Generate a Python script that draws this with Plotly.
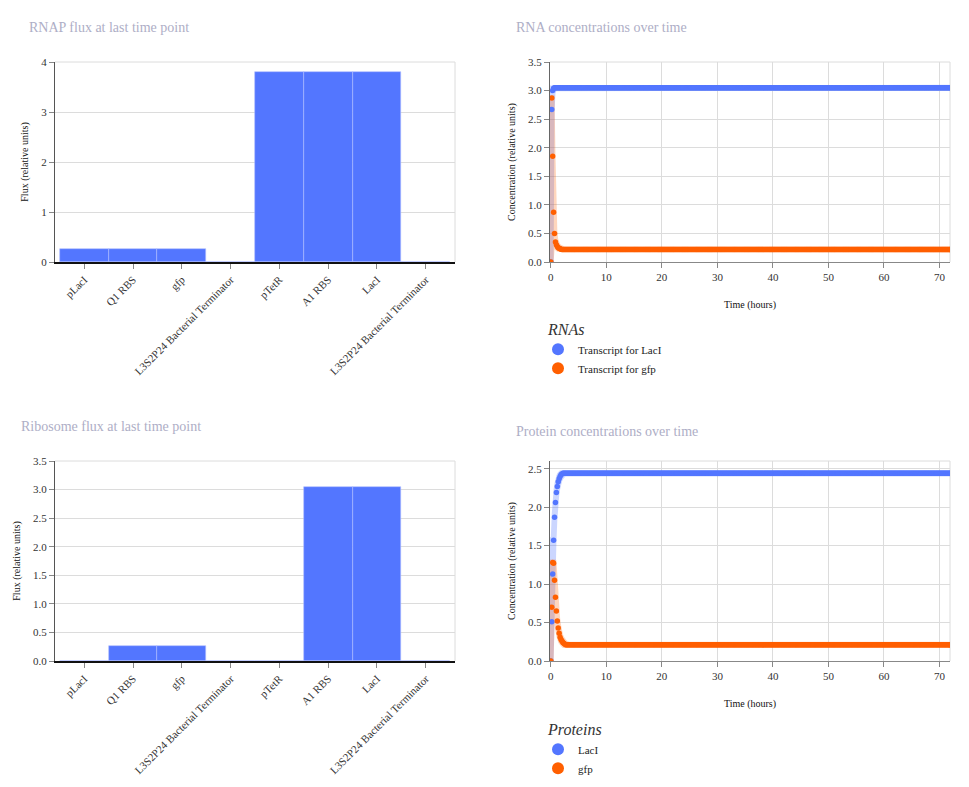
import numpy as np
import plotly.graph_objects as go
from plotly.subplots import make_subplots

# ---------------- data ----------------
parts = ["pLacI", "Q1 RBS", "gfp", "L3S2P24 Bacterial Terminator",
         "pTetR", "A1 RBS", "LacI", "L3S2P24 Bacterial Terminator"]
rnap_flux = [0.27, 0.27, 0.27, 0.0, 3.81, 3.81, 3.81, 0.0]
ribosome_flux = [0.0, 0.26, 0.26, 0.0, 0.0, 3.05, 3.05, 0.0]

time_step = 1 / 6          # hours
n_points = 433             # 0 .. 72 h
times = list(np.round(np.arange(n_points) * time_step, 4))

rna_lacI_start = [0.0, 2.67, 3.00, 3.04]
rna_lacI_plateau = 3.05
rna_gfp_start = [0.0, 2.87, 1.85, 0.87, 0.50, 0.35, 0.30, 0.27, 0.25, 0.24, 0.23, 0.225]
rna_gfp_plateau = 0.22

prot_lacI_start = [0.0, 0.51, 1.13, 1.57, 1.87, 2.06, 2.19, 2.27, 2.33, 2.37, 2.40, 2.42, 2.43]
prot_lacI_plateau = 2.44
prot_gfp_start = [0.0, 0.70, 1.28, 1.27, 1.05, 0.83, 0.65, 0.52, 0.43, 0.36, 0.31, 0.28,
                  0.26, 0.24, 0.23, 0.22]
prot_gfp_plateau = 0.21

rna_names = ["Transcript for LacI", "Transcript for gfp"]
protein_names = ["LacI", "gfp"]


def full(start, plateau):
    return start + [plateau] * (n_points - len(start))


rna_lacI = full(rna_lacI_start, rna_lacI_plateau)
rna_gfp = full(rna_gfp_start, rna_gfp_plateau)
prot_lacI = full(prot_lacI_start, prot_lacI_plateau)
prot_gfp = full(prot_gfp_start, prot_gfp_plateau)

# ---------------- style ----------------
BLUE = "#5376ff"
ORANGE = "#ff5f00"
BLUE_BAND = "rgba(83,118,255,0.3)"
ORANGE_BAND = "rgba(255,95,0,0.26)"
FONT = "Liberation Serif, Times New Roman, serif"
TITLE_COLOR = "#aeaec6"
W, H = 969, 787


def dx(a, b):
    return [a / W, b / W]


def dy(top, bottom):
    return [1 - bottom / H, 1 - top / H]


def band(vals, pad, w=3, left=-0.8):
    up, lo = [], []
    n = len(vals)
    for k in range(n):
        seg = vals[max(0, k - w):min(n, k + w + 1)]
        up.append(max(seg) + pad)
        lo.append(max(min(seg) - pad, 0.0))
    xs = [left] + times
    up = [up[0]] + up
    lo = [lo[0]] + lo
    return xs + xs[::-1], up + lo[::-1]


fig = make_subplots(rows=2, cols=2)

bar_marker = dict(color=BLUE, line=dict(color="rgba(175,190,255,1)", width=0.6))
fig.add_trace(go.Bar(x=list(range(len(parts))), y=rnap_flux, marker=bar_marker,
                     width=1, showlegend=False), row=1, col=1)
fig.add_trace(go.Bar(x=list(range(len(parts))), y=ribosome_flux, marker=bar_marker,
                     width=1, showlegend=False), row=2, col=1)

# RNA time series
for vals, bcol, pad in [(rna_lacI, BLUE_BAND, 0.05), (rna_gfp, ORANGE_BAND, 0.05)]:
    bx, by = band(vals, pad)
    fig.add_trace(go.Scatter(x=bx, y=by, fill="toself", fillcolor=bcol, line=dict(width=0),
                             mode="lines", showlegend=False, hoverinfo="skip"), row=1, col=2)
for vals, col, name in [(rna_lacI, BLUE, rna_names[0]), (rna_gfp, ORANGE, rna_names[1])]:
    fig.add_trace(go.Scatter(x=times, y=vals, mode="markers", name=name,
                             marker=dict(color=col, size=5.5), legend="legend"), row=1, col=2)

# Protein time series
for vals, bcol, pad in [(prot_lacI, BLUE_BAND, 0.04), (prot_gfp, ORANGE_BAND, 0.04)]:
    bx, by = band(vals, pad)
    fig.add_trace(go.Scatter(x=bx, y=by, fill="toself", fillcolor=bcol, line=dict(width=0),
                             mode="lines", showlegend=False, hoverinfo="skip"), row=2, col=2)
for vals, col, name in [(prot_lacI, BLUE, protein_names[0]), (prot_gfp, ORANGE, protein_names[1])]:
    fig.add_trace(go.Scatter(x=times, y=vals, mode="markers", name=name,
                             marker=dict(color=col, size=5.5), legend="legend2"), row=2, col=2)

tickfont = dict(family=FONT, size=11, color="#333")
titlefont = dict(family=FONT, size=10, color="#111")

bar_x = dict(tickmode="array", tickvals=list(range(len(parts))), ticktext=parts, tickangle=-45,
             range=[-0.6, 7.6], showgrid=False, showline=True, linecolor="#111", linewidth=2,
             ticks="outside", ticklen=5, tickcolor="#888", tickfont=tickfont, zeroline=False,
             automargin=False)
bar_y = dict(showgrid=True, gridcolor="#dcdcdc", showline=True, linecolor="#555", linewidth=1,
             ticks="outside", ticklen=5, tickcolor="#888", tickfont=tickfont, zeroline=False,
             automargin=False,
             title=dict(text="Flux (relative units)", font=titlefont, standoff=10))

fig.update_xaxes(domain=dx(55, 455), **bar_x, row=1, col=1)
fig.update_yaxes(domain=dy(62, 262), range=[0, 4], tickvals=[0, 1, 2, 3, 4], **bar_y, row=1, col=1)
fig.update_xaxes(domain=dx(55, 455), **bar_x, row=2, col=1)
fig.update_yaxes(domain=dy(461, 661), range=[0, 3.5], tickvals=[0, 0.5, 1, 1.5, 2, 2.5, 3, 3.5],
                 tickformat=".1f", **bar_y, row=2, col=1)

ts_x = dict(range=[-0.15, 71.9], tickvals=[0, 10, 20, 30, 40, 50, 60, 70], showgrid=True, gridcolor="#dcdcdc",
            showline=True, linecolor="#888", linewidth=1, ticks="outside", ticklen=5, tickcolor="#888",
            tickfont=tickfont, zeroline=False, automargin=False,
            title=dict(text="Time (hours)", font=titlefont, standoff=18))
ts_y = dict(showgrid=True, gridcolor="#dcdcdc", showline=True, linecolor="#666", linewidth=1,
            ticks="outside", ticklen=5, tickcolor="#888", tickfont=tickfont, zeroline=False, tickformat=".1f",
            automargin=False,
            title=dict(text="Concentration (relative units)", font=titlefont, standoff=10))

fig.update_xaxes(domain=dx(550, 950), **ts_x, row=1, col=2)
fig.update_yaxes(domain=dy(62, 262), range=[0, 3.5], tickvals=[0, 0.5, 1, 1.5, 2, 2.5, 3, 3.5], **ts_y, row=1, col=2)
fig.update_xaxes(domain=dx(550, 950), **ts_x, row=2, col=2)
fig.update_yaxes(domain=dy(461, 661), range=[0, 2.6], tickvals=[0, 0.5, 1, 1.5, 2, 2.5], **ts_y, row=2, col=2)

# light top/right frame lines
for xr, yr in [("x", "y"), ("x2", "y2"), ("x3", "y3"), ("x4", "y4")]:
    fig.add_shape(type="line", xref=f"{xr} domain", yref=f"{yr} domain", x0=0, x1=1, y0=1, y1=1,
                  line=dict(color="#dcdcdc", width=1), layer="below")
    fig.add_shape(type="line", xref=f"{xr} domain", yref=f"{yr} domain", x0=1, x1=1, y0=0, y1=1,
                  line=dict(color="#dcdcdc", width=1), layer="below")

titles = [("RNAP flux at last time point", 27, 27), ("RNA concentrations over time", 514, 27),
          ("Ribosome flux at last time point", 19, 427), ("Protein concentrations over time", 514, 431)]
for text, px, py in titles:
    fig.add_annotation(text=text, xref="paper", yref="paper", x=px / W, y=1 - py / H,
                       xanchor="left", yanchor="middle", showarrow=False,
                       font=dict(family=FONT, size=14, color=TITLE_COLOR))

legend_common = dict(xanchor="left", yanchor="top", bgcolor="rgba(0,0,0,0)", itemsizing="constant",
                     font=dict(family=FONT, size=11, color="#222"), tracegroupgap=0)
fig.update_layout(
    width=W, height=H, margin=dict(l=0, r=0, t=0, b=0, autoexpand=False),
    paper_bgcolor="white", plot_bgcolor="white", bargap=0,
    font=dict(family=FONT),
    legend=dict(x=538 / W, y=1 - 314 / H,
                title=dict(text="&nbsp;&nbsp;<i>RNAs</i>", font=dict(family=FONT, size=16, color="#333"), side="top"),
                **legend_common),
    legend2=dict(x=538 / W, y=1 - 714 / H,
                 title=dict(text="&nbsp;&nbsp;<i>Proteins</i>", font=dict(family=FONT, size=16, color="#333"), side="top"),
                 **legend_common),
)

fig.write_html("out.html")
